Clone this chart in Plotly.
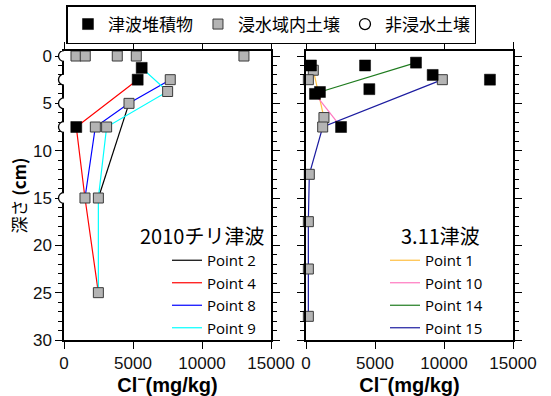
import plotly.graph_objects as go

# ---- 2010 Chile tsunami (left panel) ----
chile_dep_x = [5630, 5340, 890]
chile_dep_d = [1.25, 2.5, 7.5]
chile_soil_x = [870, 1540, 3860, 5240, 13040, 7700, 7510, 4710, 2270, 3090, 1520, 2490, 2490]
chile_soil_d = [0, 0, 0, 0, 0, 2.5, 3.75, 5, 7.5, 7.5, 15, 15, 25]
chile_dry_d = [0, 2.5, 5, 7.5, 15]

chile_lines = {
    "Point 2": ([4710, 2490], [5, 15], "#000000"),
    "Point 4": ([5340, 890, 1520, 2490], [2.5, 7.5, 15, 25], "#ff0000"),
    "Point 8": ([7700, 4710, 2270, 1520], [2.5, 5, 7.5, 15], "#0000ff"),
    "Point 9": ([5630, 7510, 3090, 2490, 2490], [1.25, 3.75, 7.5, 15, 25], "#00ffff"),
}

# ---- 2011 Tohoku tsunami (right panel) ----
tohoku_dep_x = [360, 4280, 7970, 9180, 13330, 4590, 1010, 650, 2540]
tohoku_dep_d = [1, 1, 0.7, 2, 2.5, 3.5, 3.8, 4, 7.5]
tohoku_soil_x = [530, 170, 9880, 1300, 1210, 240, 170, 170, 170]
tohoku_soil_d = [1.5, 2.5, 2.5, 6.5, 7.5, 12.5, 17.5, 22.5, 27.5]

tohoku_lines = {
    "Point 1": ([530, 1300], [1.5, 6.5], "#ffbf40"),
    "Point 10": ([650, 2540], [4, 7.5], "#ff78c0"),
    "Point 14": ([1010, 7970], [3.8, 0.7], "#1e7b1e"),
    "Point 15": ([9880, 1210, 240, 170, 170, 170], [2.5, 7.5, 12.5, 17.5, 22.5, 27.5], "#1c1ca0"),
}

x_ticks = [0, 5000, 10000, 15000]
x_ticktext = ["0", "5000", "10000", "15000"]
depth_ticks = [0, 5, 10, 15, 20, 25, 30]

W, H = 551, 396
CJK = "Noto Sans CJK JP"
SANS = "Liberation Sans, Arial, sans-serif"
LEGEND_FONT = "Open Sans"

fig = go.Figure()

# connecting lines (drawn first, under the markers)
for name, (xs, ds, col) in chile_lines.items():
    fig.add_trace(go.Scatter(x=xs, y=ds, mode="lines", name=name,
                             line=dict(color=col, width=1.2),
                             xaxis="x", yaxis="y", legend="legend2"))
for name, (xs, ds, col) in tohoku_lines.items():
    fig.add_trace(go.Scatter(x=xs, y=ds, mode="lines", name=name,
                             line=dict(color=col, width=1.2),
                             xaxis="x2", yaxis="y2", legend="legend3"))

dep_marker = dict(symbol="square", size=11, color="#000000", line=dict(color="#000000", width=0.5))
soil_marker = dict(symbol="square", size=10, color="#b4b4b4", line=dict(color="#3a3a3a", width=1))

fig.add_trace(go.Scatter(x=chile_soil_x, y=chile_soil_d, mode="markers", marker=soil_marker,
                         xaxis="x", yaxis="y", showlegend=False, cliponaxis=False))
fig.add_trace(go.Scatter(x=chile_dep_x, y=chile_dep_d, mode="markers", marker=dep_marker,
                         xaxis="x", yaxis="y", showlegend=False, cliponaxis=False))
fig.add_trace(go.Scatter(x=tohoku_soil_x, y=tohoku_soil_d, mode="markers", marker=soil_marker,
                         xaxis="x2", yaxis="y2", showlegend=False, cliponaxis=False))
fig.add_trace(go.Scatter(x=tohoku_dep_x, y=tohoku_dep_d, mode="markers", marker=dep_marker,
                         xaxis="x2", yaxis="y2", name="津波堆積物", legend="legend", legendrank=1,
                         cliponaxis=False))
# legend-only entry for inundated soil
fig.add_trace(go.Scatter(x=[None], y=[None], mode="markers", marker=soil_marker,
                         xaxis="x2", yaxis="y2", name="浸水域内土壌", legend="legend", legendrank=2))
# non-inundated soil: half circles sitting on the depth axis
fig.add_trace(go.Scatter(x=[0] * len(chile_dry_d), y=chile_dry_d, mode="markers",
                         marker=dict(symbol="circle", size=11, color="white",
                                     line=dict(color="#000000", width=1.3)),
                         xaxis="x3", yaxis="y3", name="非浸水土壌", legend="legend", legendrank=3))

ydom = [1 - 340 / H, 1 - 51 / H]
yrange = [30, -0.53]
xl = [64 / W, 271 / W]
xr = [306 / W, 513 / W]


def x_axis(domain, anchor):
    return dict(domain=domain, anchor=anchor, range=[0, 15000], tickvals=x_ticks, ticktext=x_ticktext,
                ticks="outside", ticklen=7, tickwidth=1.2, tickcolor="#000", showline=True,
                linecolor="#000", linewidth=1.5, mirror="allticks", showgrid=False, zeroline=False,
                automargin=False,
                tickfont=dict(family=SANS, size=17, color="#111"),
                title=dict(text="<b>Cl<sup>−</sup>(mg/kg)</b>",
                           font=dict(family=SANS, size=20, color="#000"), standoff=4))


def y_axis(anchor, **extra):
    d = dict(anchor=anchor, range=yrange, domain=ydom, tickvals=depth_ticks, ticks="outside",
             ticklen=7, tickwidth=1.2, tickcolor="#000", showline=True, linecolor="#000",
             linewidth=1.5, mirror="allticks", showgrid=False, zeroline=False, automargin=False,
             minor=dict(dtick=1, ticks="outside", ticklen=4, tickwidth=1, tickcolor="#000"),
             tickfont=dict(family=SANS, size=17, color="#111"))
    d.update(extra)
    return d


fig.update_layout(
    width=W, height=H, margin=dict(l=0, r=0, t=0, b=0, autoexpand=False),
    paper_bgcolor="white", plot_bgcolor="white",
    xaxis=x_axis(xl, "y"),
    xaxis2=x_axis(xr, "y2"),
    yaxis=y_axis("x", title=dict(text="深さ <b>(cm)</b>",
                                 font=dict(family=CJK, size=17, color="#000"), standoff=2)),
    yaxis2=y_axis("x2", showticklabels=False),
    xaxis3=dict(domain=[(64 - 20) / W, 64 / W], range=[-1, 0], anchor="y3", visible=False,
                automargin=False),
    yaxis3=dict(domain=ydom, range=yrange, anchor="x3", visible=False, automargin=False),
    legend=dict(orientation="h", x=0.4927, xanchor="center", y=1 - 5 / H, yanchor="top",
                bordercolor="#000", borderwidth=1.5, bgcolor="white",
                font=dict(family=CJK, size=17, color="#000"), itemwidth=30,
                traceorder="normal"),
    legend2=dict(x=167 / W, xanchor="left", y=1 - 244 / H, yanchor="top",
                 font=dict(family=LEGEND_FONT, size=15, color="#000"),
                 bgcolor="rgba(0,0,0,0)", tracegroupgap=0),
    legend3=dict(x=385 / W, xanchor="left", y=1 - 244 / H, yanchor="top",
                 font=dict(family=LEGEND_FONT, size=15, color="#000"),
                 bgcolor="rgba(0,0,0,0)", tracegroupgap=0),
    annotations=[
        dict(text="2010チリ津波", x=266 / W, y=1 - 235 / H, xref="paper", yref="paper",
             xanchor="right", yanchor="middle", showarrow=False,
             font=dict(family=CJK, size=20, color="#000")),
        dict(text="3.11津波", x=482 / W, y=1 - 236 / H, xref="paper", yref="paper",
             xanchor="right", yanchor="middle", showarrow=False,
             font=dict(family=CJK, size=20, color="#000")),
    ],
)

fig.write_html("out.html")
